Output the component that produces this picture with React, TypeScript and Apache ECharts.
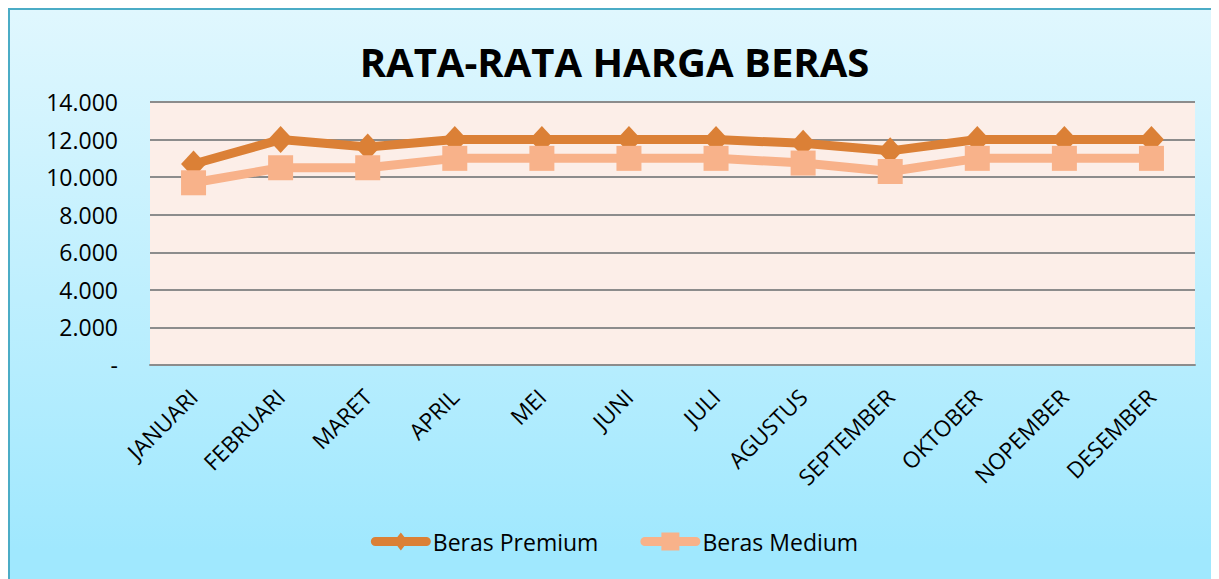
import React, { useEffect, useRef } from "react";
import * as echarts from "echarts";

const months = ["JANUARI", "FEBRUARI", "MARET", "APRIL", "MEI", "JUNI", "JULI", "AGUSTUS", "SEPTEMBER", "OKTOBER", "NOPEMBER", "DESEMBER"];
const berasPremium = [10700, 12000, 11600, 12000, 12000, 12000, 12000, 11800, 11400, 12000, 12000, 12000];
const berasMedium = [9700, 10500, 10500, 11000, 11000, 11000, 11000, 10750, 10300, 11000, 11000, 11000];
const yTicks = { min: 0, max: 14000, interval: 2000 };
const titleText = "RATA-RATA HARGA BERAS";

const FONT = "'Open Sans', 'Noto Sans', sans-serif";

const LINE = "M4.5,4.5 L55.5,4.5 A4.5,4.5 0 0 1 55.5,13.5 L4.5,13.5 A4.5,4.5 0 0 1 4.5,4.5 Z ";
const ICON_DIAMOND = "path://" + LINE + "M30,0 L37,9 L30,18 L23,9 Z";
const ICON_SQUARE = "path://" + LINE + "M21,0 L39,0 L39,18 L21,18 Z";

function fmt(v: number): string {
  if (v === 0) return "-";
  return String(v).replace(/\B(?=(\d{3})+(?!\d))/g, ".");
}

export default function App() {
  const ref = useRef<HTMLDivElement>(null);
  useEffect(() => {
    document.documentElement.style.overflow = "hidden";
    document.body.style.overflow = "hidden";
    const chart = echarts.init(ref.current!, null, { renderer: "svg" });
    chart.setOption({
      animation: false,
      title: {
        text: titleText,
        left: "center",
        top: 26,
        textStyle: { fontFamily: FONT, fontWeight: "bold", fontSize: 40, color: "#000" },
      },
      legend: {
        top: 515,
        left: "center",
        itemWidth: 60,
        itemHeight: 18,
        itemGap: 42,
        textStyle: { fontFamily: FONT, fontSize: 23, color: "#000", padding: [0, 0, 0, -3] },
        data: [
          { name: "Beras Premium", icon: ICON_DIAMOND },
          { name: "Beras Medium", icon: ICON_SQUARE },
        ],
      },
      grid: {
        left: 140,
        top: 92,
        right: 24,
        bottom: 214,
        show: true,
        backgroundColor: "#FCEEE8",
        borderWidth: 0,
      },
      xAxis: {
        type: "category",
        data: months,
        boundaryGap: true,
        axisLine: { show: true, lineStyle: { color: "#8C8C8C", width: 2 } },
        axisTick: { show: false },
        axisLabel: {
          rotate: 45,
          margin: 28,
          interval: 0,
          fontFamily: FONT,
          fontSize: 22.5,
          color: "#000",
        },
      },
      yAxis: {
        type: "value",
        min: yTicks.min,
        max: yTicks.max,
        interval: yTicks.interval,
        axisLine: { show: false },
        axisTick: { show: false },
        splitLine: { lineStyle: { color: "#8C8C8C", width: 2 } },
        axisLabel: {
          margin: 32,
          fontFamily: FONT,
          fontSize: 23,
          color: "#000",
          formatter: (v: number) => fmt(v),
        },
      },
      series: [
        {
          name: "Beras Premium",
          type: "line",
          data: berasPremium,
          symbol: "diamond",
          symbolSize: [25, 27],
          lineStyle: { color: "#DB8036", width: 9 },
          itemStyle: { color: "#DB8036" },
        },
        {
          name: "Beras Medium",
          type: "line",
          data: berasMedium,
          symbol: "rect",
          symbolSize: 25,
          lineStyle: { color: "#F8B28A", width: 9 },
          itemStyle: { color: "#F8B28A" },
        },
      ],
    });
    return () => chart.dispose();
  }, []);
  return (
    <div
      style={{
        width: 1250,
        height: 600,
        borderLeft: "2px solid #4BACC6",
        borderTop: "2px solid #4BACC6",
        background: "linear-gradient(#E0F7FE, #A0E8FE 90%)",
      }}
    >
      <div ref={ref} style={{ width: 1209, height: 569 }} />
    </div>
  );
}
